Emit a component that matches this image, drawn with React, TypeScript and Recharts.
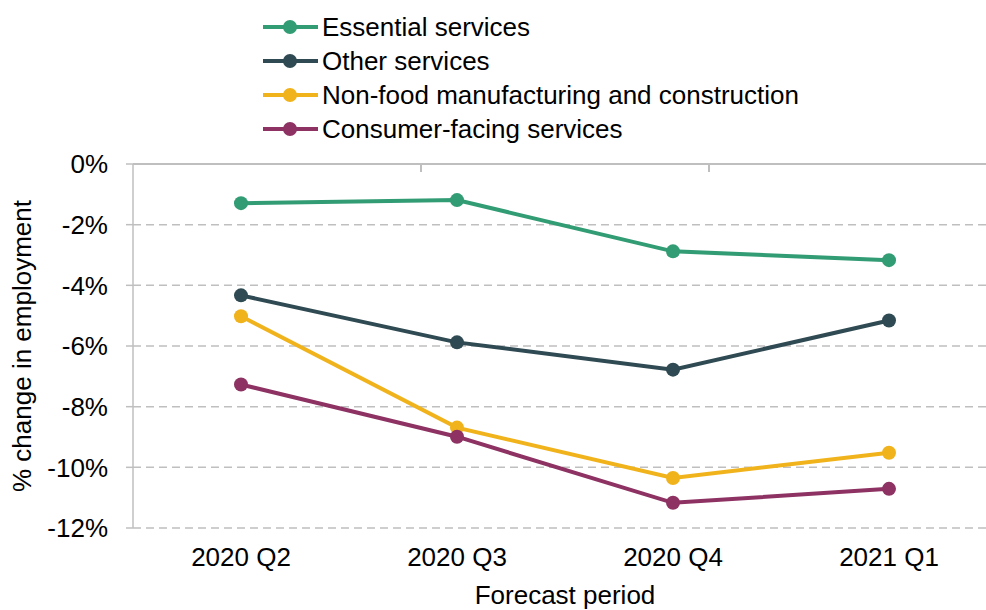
import {
  LineChart,
  Line,
  XAxis,
  YAxis,
  CartesianGrid,
  Legend,
} from 'recharts';

const quarters = ['2020 Q2', '2020 Q3', '2020 Q4', '2021 Q1'];
const essential = [-1.29, -1.19, -2.88, -3.17];
const other = [-4.33, -5.88, -6.78, -5.16];
const nonFood = [-5.02, -8.69, -10.35, -9.52];
const consumer = [-7.27, -8.99, -11.17, -10.71];
const yTicks = [-12, -10, -8, -6, -4, -2, 0];
const boundaryTicks = [1, 2, 3];

const series = [
  { key: 'essential', name: 'Essential services', color: '#329c74' },
  { key: 'other', name: 'Other services', color: '#2f4a52' },
  { key: 'nonFood', name: 'Non-food manufacturing and construction', color: '#f1b31c' },
  { key: 'consumer', name: 'Consumer-facing services', color: '#8d3262' },
];

const data = quarters.map((q, i) => ({
  q,
  essential: essential[i],
  other: other[i],
  nonFood: nonFood[i],
  consumer: consumer[i],
}));

const FONT = '"Liberation Sans", Arial, sans-serif';
const GRID = '#bfbfbf';

// keep the series order (recharts sorts the payload by name)
const LegendBox = () => (
  <div style={{ fontFamily: FONT, fontSize: 26, color: '#000' }}>
    {series.map((s) => (
      <div key={s.key} style={{ display: 'flex', alignItems: 'center', height: 34 }}>
        <svg width={60} height={34}>
          <line x1={1} y1={17} x2={56} y2={17} stroke={s.color} strokeWidth={4} />
          <circle cx={28} cy={17} r={7} fill={s.color} />
        </svg>
        <span style={{ lineHeight: '34px', whiteSpace: 'nowrap' }}>{s.name}</span>
      </div>
    ))}
  </div>
);

const YLabel = ({ viewBox }: any) => {
  const cy = viewBox.y + viewBox.height / 2;
  return (
    <text
      x={22}
      y={cy}
      transform={`rotate(-90, 22, ${cy})`}
      textAnchor="middle"
      dominantBaseline="central"
      fontFamily={FONT}
      fontSize={26}
      fill="#000"
    >
      % change in employment
    </text>
  );
};

export default function App() {
  return (
    <div style={{ position: 'absolute', left: 0, top: 0, width: 986, height: 610, overflow: 'hidden', background: '#fff' }}>
      <LineChart
        width={1000}
        height={610}
        data={data}
        margin={{ top: 164, right: 3, bottom: 0, left: 0 }}
      >
        <CartesianGrid vertical={false} stroke={GRID} strokeWidth={1.5} strokeDasharray="8 5" />
        <XAxis
          dataKey="q"
          height={82}
          padding={{ left: 108, right: 108 }}
          axisLine={false}
          tickLine={false}
          tickSize={0}
          tickMargin={20}
          tick={{ fill: '#000', fontSize: 26, fontFamily: FONT }}
          label={{ value: 'Forecast period', position: 'insideBottom', offset: 6, fill: '#000', fontSize: 26, fontFamily: FONT }}
        />
        <XAxis
          xAxisId="bounds"
          orientation="top"
          type="number"
          domain={[0, 4]}
          ticks={boundaryTicks}
          height={1}
          mirror
          tickSize={8}
          tickFormatter={() => ''}
          axisLine={{ stroke: GRID, strokeWidth: 2 }}
          tickLine={{ stroke: GRID, strokeWidth: 2 }}
        />
        <YAxis
          width={133}
          domain={[-12, 0]}
          ticks={yTicks}
          interval={0}
          tickFormatter={(v: number) => `${v}%`}
          tickSize={7}
          tickMargin={18}
          axisLine={{ stroke: GRID, strokeWidth: 1.5 }}
          tickLine={{ stroke: GRID, strokeWidth: 1.5 }}
          tick={{ fill: '#000', fontSize: 26, fontFamily: FONT }}
          label={{ content: YLabel }}
        />
        <Legend
          verticalAlign="middle"
          align="center"
          layout="vertical"
          content={<LegendBox />}
          wrapperStyle={{ top: 10, left: 262, width: 'auto', height: 'auto' }}
        />
        {series.map((s) => (
          <Line
            key={s.key}
            dataKey={s.key}
            name={s.name}
            stroke={s.color}
            strokeWidth={4}
            dot={{ r: 7, fill: s.color, stroke: s.color, strokeWidth: 0 }}
            activeDot={false}
            isAnimationActive={false}
          />
        ))}
      </LineChart>
    </div>
  );
}
